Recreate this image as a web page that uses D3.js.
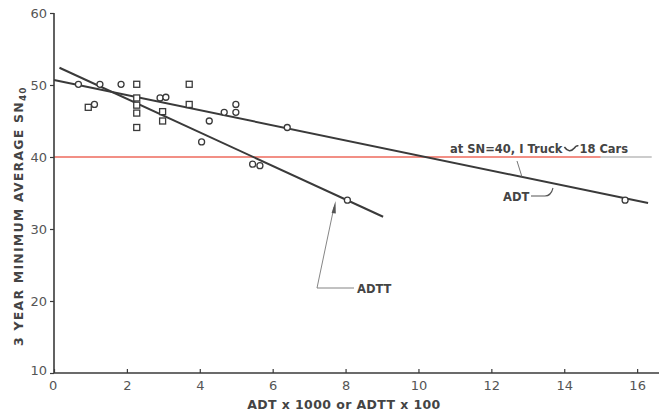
<!DOCTYPE html>
<html>
<head>
<meta charset="utf-8">
<script src="https://cdn.jsdelivr.net/npm/d3@7"></script>
<style>
  html, body { margin: 0; padding: 0; background: #fff; }
  svg { display: block; }
  text { font-family: "DejaVu Sans", "Noto Sans", sans-serif; }
</style>
</head>
<body>
<svg id="chart" width="666" height="420"></svg>
<script>
// Site observations plotted as open circles: [traffic, SN40]
const circleSites = [
  [0.67, 50.1], [1.26, 50.1], [1.84, 50.1], [1.11, 47.3],
  [2.91, 48.2], [3.07, 48.3], [4.05, 42.1], [4.26, 45.0],
  [4.67, 46.2], [4.99, 47.3], [4.99, 46.2], [6.40, 44.1],
  [5.45, 39.0], [5.65, 38.8], [8.05, 34.0], [15.67, 34.0]
];
// Site observations plotted as open squares
const squareSites = [
  [0.94, 46.9], [2.27, 50.1], [2.27, 48.2], [2.27, 47.2],
  [2.27, 46.1], [2.27, 44.1], [2.98, 46.3], [2.98, 45.0],
  [3.71, 50.1], [3.71, 47.3]
];
// Fitted regression lines (end points)
const adtFit = [[0.0, 50.7], [16.3, 33.6]];
const adttFit = [[0.15, 52.4], [9.03, 31.7]];
// Reference level
const snReference = 40;
const xTicks = [0, 2, 4, 6, 8, 10, 12, 14, 16];
const yTicks = [10, 20, 30, 40, 50, 60];

const svg = d3.select("#chart");
const x = d3.scaleLinear().domain([0, 16.6]).range([54, 659]);
const y = d3.scaleLinear().domain([10, 60]).range([373, 13]);

const ink = "#3a3a3a";
const labelInk = "#555";
const noteInk = "#444";

// Reference line at SN = 40
svg.append("line")
  .attr("x1", x(0)).attr("x2", x(15.0))
  .attr("y1", y(snReference)).attr("y2", y(snReference))
  .attr("stroke", "#ee6a5c").attr("stroke-width", 1.6);
svg.append("line")
  .attr("x1", x(15.0)).attr("x2", x(16.4))
  .attr("y1", y(snReference)).attr("y2", y(snReference))
  .attr("stroke", "#9a9a9a").attr("stroke-width", 1.2);

// Axes
const yAxis = svg.append("g")
  .attr("transform", `translate(${x(0)},0)`)
  .call(d3.axisLeft(y).tickValues(yTicks).tickSize(4).tickPadding(3).tickFormat(d3.format("d")));
const xAxis = svg.append("g")
  .attr("transform", `translate(0,${y(10)})`)
  .call(d3.axisBottom(x).tickValues(xTicks).tickSizeInner(-4).tickSizeOuter(0).tickPadding(8).tickFormat(d3.format("d")));
[xAxis, yAxis].forEach(g => {
  g.select(".domain").attr("stroke", ink).attr("stroke-width", 1.6);
  g.selectAll(".tick line").attr("stroke", ink).attr("stroke-width", 1.2);
  g.selectAll(".tick text").attr("fill", labelInk).attr("font-size", 13);
});
yAxis.select(".domain").attr("d", `M0,${y(60)}V${y(10)}`);
xAxis.select(".domain").attr("d", `M${x(0)},0H${x(16.6)}`);
yAxis.selectAll(".tick").filter(d => d === 10).select("text").attr("dy", "0.1em");
xAxis.selectAll(".tick").filter(d => d === 0).select("text").attr("dx", "-0.1em");

// Fitted lines
const line = d3.line().x(d => x(d[0])).y(d => y(d[1]));
[adtFit, adttFit].forEach(f => {
  svg.append("path").attr("d", line(f))
    .attr("fill", "none").attr("stroke", ink).attr("stroke-width", 2);
});

// Markers
svg.append("g").selectAll("circle").data(circleSites).join("circle")
  .attr("cx", d => x(d[0])).attr("cy", d => y(d[1])).attr("r", 3)
  .attr("fill", "#fff").attr("stroke", ink).attr("stroke-width", 1.3);
svg.append("g").selectAll("rect").data(squareSites).join("rect")
  .attr("x", d => x(d[0]) - 3).attr("y", d => y(d[1]) - 3)
  .attr("width", 6).attr("height", 6)
  .attr("fill", "#fff").attr("stroke", ink).attr("stroke-width", 1.3);

// Equivalence note above the SN = 40 line
const noteY = 153;
const note1 = svg.append("text")
  .attr("x", 450).attr("y", noteY)
  .attr("font-size", 11.5).attr("font-weight", "bold").attr("fill", noteInk)
  .text("at SN=40, I Truck");
const n1End = 450 + note1.node().getComputedTextLength();
svg.append("path")
  .attr("d", `M${n1End + 2},${noteY - 6} Q${n1End + 7},${noteY + 1} ${n1End + 12},${noteY - 5} Q${n1End + 14},${noteY - 8} ${n1End + 16},${noteY - 7}`)
  .attr("fill", "none").attr("stroke", noteInk).attr("stroke-width", 1.6);
svg.append("text")
  .attr("x", n1End + 17).attr("y", noteY)
  .attr("font-size", 11.5).attr("font-weight", "bold").attr("fill", noteInk)
  .text("18 Cars");
svg.append("line")
  .attr("x1", 517).attr("y1", 161)
  .attr("x2", 522).attr("y2", 177)
  .attr("stroke", "#666").attr("stroke-width", 0.9);

// ADT label with leader
svg.append("text")
  .attr("x", 503).attr("y", 201)
  .attr("font-size", 11.5).attr("font-weight", "bold").attr("fill", noteInk)
  .text("ADT");
svg.append("path")
  .attr("d", "M531,196 L545,196 Q551,196 553,188")
  .attr("fill", "none").attr("stroke", "#555").attr("stroke-width", 1.1);

// ADTT label with leader and arrow
svg.append("text")
  .attr("x", 357).attr("y", 293)
  .attr("font-size", 11.5).attr("font-weight", "bold").attr("fill", noteInk)
  .text("ADTT");
svg.append("path")
  .attr("d", "M354,288 L317,288 L334,207")
  .attr("fill", "none").attr("stroke", "#777").attr("stroke-width", 0.9);
svg.append("path")
  .attr("d", "M331.6,213 L335.5,201 L335.8,213.6 Z")
  .attr("fill", "#555");

// Axis titles
svg.append("text")
  .attr("x", 344).attr("y", 409)
  .attr("text-anchor", "middle").attr("font-size", 12.5).attr("fill", noteInk)
  .attr("font-weight", "bold").attr("letter-spacing", 0.4)
  .text("ADT x 1000 or ADTT x 100");

const yTitle = svg.append("text")
  .attr("transform", `translate(23,${y(31.8)}) rotate(-90)`)
  .attr("text-anchor", "middle").attr("font-size", 12.5)
  .attr("font-weight", "bold").attr("fill", noteInk)
  .attr("letter-spacing", 1.2);
yTitle.append("tspan").text("3 YEAR MINIMUM AVERAGE  SN");
yTitle.append("tspan").attr("font-size", 9).attr("dy", 3).text("40");
</script>
</body>
</html>
